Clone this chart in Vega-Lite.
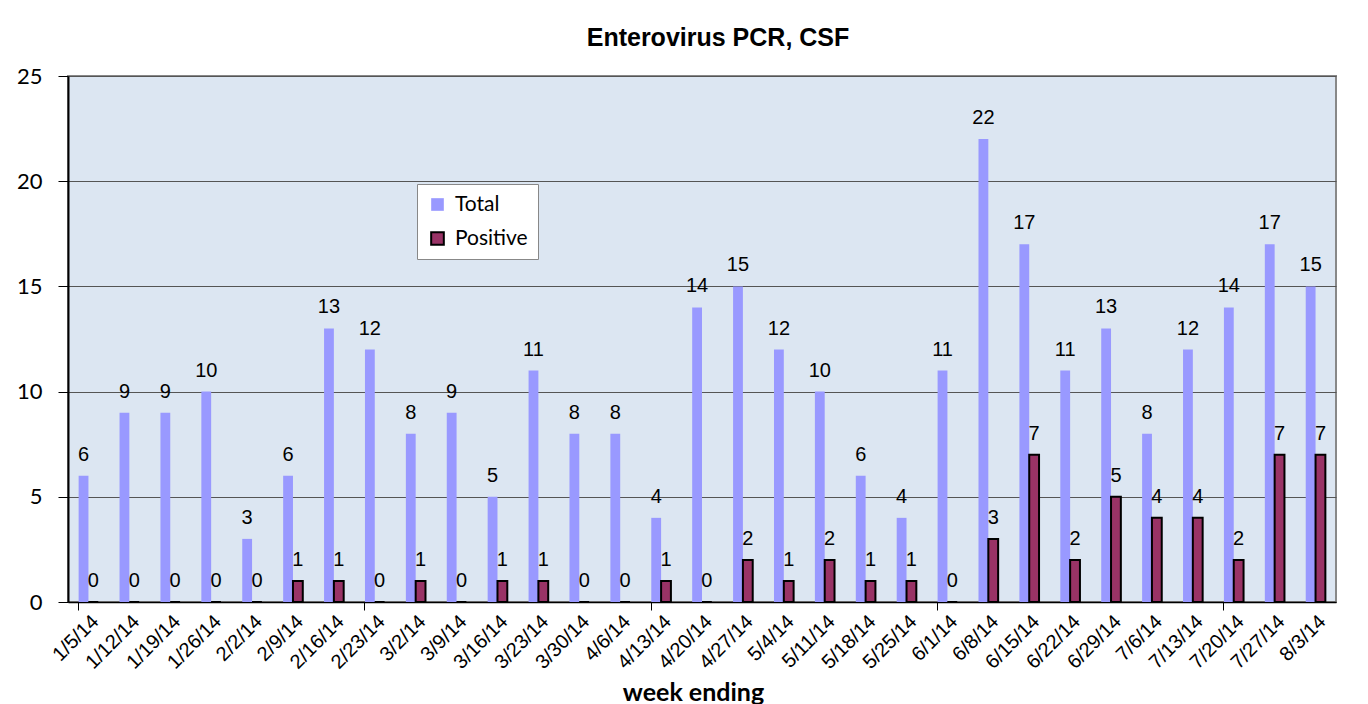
{
  "$schema": "https://vega.github.io/schema/vega-lite/v6.json",
  "width": 1268,
  "height": 526,
  "autosize": {"type": "none"},
  "padding": {"left": 68, "top": 76, "right": 32, "bottom": 102},
  "background": "white",
  "title": {"text": "Enterovirus PCR, CSF", "font": "Liberation Sans", "fontSize": 25, "fontWeight": "bold", "color": "black", "offset": 14, "dx": 16},
  "data": {"values": [
    {"week": "1/5/14", "series": "Total", "value": 6}, {"week": "1/5/14", "series": "Positive", "value": 0},
    {"week": "1/12/14", "series": "Total", "value": 9}, {"week": "1/12/14", "series": "Positive", "value": 0},
    {"week": "1/19/14", "series": "Total", "value": 9}, {"week": "1/19/14", "series": "Positive", "value": 0},
    {"week": "1/26/14", "series": "Total", "value": 10}, {"week": "1/26/14", "series": "Positive", "value": 0},
    {"week": "2/2/14", "series": "Total", "value": 3}, {"week": "2/2/14", "series": "Positive", "value": 0},
    {"week": "2/9/14", "series": "Total", "value": 6}, {"week": "2/9/14", "series": "Positive", "value": 1},
    {"week": "2/16/14", "series": "Total", "value": 13}, {"week": "2/16/14", "series": "Positive", "value": 1},
    {"week": "2/23/14", "series": "Total", "value": 12}, {"week": "2/23/14", "series": "Positive", "value": 0},
    {"week": "3/2/14", "series": "Total", "value": 8}, {"week": "3/2/14", "series": "Positive", "value": 1},
    {"week": "3/9/14", "series": "Total", "value": 9}, {"week": "3/9/14", "series": "Positive", "value": 0},
    {"week": "3/16/14", "series": "Total", "value": 5}, {"week": "3/16/14", "series": "Positive", "value": 1},
    {"week": "3/23/14", "series": "Total", "value": 11}, {"week": "3/23/14", "series": "Positive", "value": 1},
    {"week": "3/30/14", "series": "Total", "value": 8}, {"week": "3/30/14", "series": "Positive", "value": 0},
    {"week": "4/6/14", "series": "Total", "value": 8}, {"week": "4/6/14", "series": "Positive", "value": 0},
    {"week": "4/13/14", "series": "Total", "value": 4}, {"week": "4/13/14", "series": "Positive", "value": 1},
    {"week": "4/20/14", "series": "Total", "value": 14}, {"week": "4/20/14", "series": "Positive", "value": 0},
    {"week": "4/27/14", "series": "Total", "value": 15}, {"week": "4/27/14", "series": "Positive", "value": 2},
    {"week": "5/4/14", "series": "Total", "value": 12}, {"week": "5/4/14", "series": "Positive", "value": 1},
    {"week": "5/11/14", "series": "Total", "value": 10}, {"week": "5/11/14", "series": "Positive", "value": 2},
    {"week": "5/18/14", "series": "Total", "value": 6}, {"week": "5/18/14", "series": "Positive", "value": 1},
    {"week": "5/25/14", "series": "Total", "value": 4}, {"week": "5/25/14", "series": "Positive", "value": 1},
    {"week": "6/1/14", "series": "Total", "value": 11}, {"week": "6/1/14", "series": "Positive", "value": 0},
    {"week": "6/8/14", "series": "Total", "value": 22}, {"week": "6/8/14", "series": "Positive", "value": 3},
    {"week": "6/15/14", "series": "Total", "value": 17}, {"week": "6/15/14", "series": "Positive", "value": 7},
    {"week": "6/22/14", "series": "Total", "value": 11}, {"week": "6/22/14", "series": "Positive", "value": 2},
    {"week": "6/29/14", "series": "Total", "value": 13}, {"week": "6/29/14", "series": "Positive", "value": 5},
    {"week": "7/6/14", "series": "Total", "value": 8}, {"week": "7/6/14", "series": "Positive", "value": 4},
    {"week": "7/13/14", "series": "Total", "value": 12}, {"week": "7/13/14", "series": "Positive", "value": 4},
    {"week": "7/20/14", "series": "Total", "value": 14}, {"week": "7/20/14", "series": "Positive", "value": 2},
    {"week": "7/27/14", "series": "Total", "value": 17}, {"week": "7/27/14", "series": "Positive", "value": 7},
    {"week": "8/3/14", "series": "Total", "value": 15}, {"week": "8/3/14", "series": "Positive", "value": 7}
  ]},
  "encoding": {
    "xOffset": {"field": "series", "type": "nominal", "sort": ["Total", "Positive"], "scale": {"paddingInner": 0, "paddingOuter": 0}},
    "y": {"field": "value", "type": "quantitative", "scale": {"domain": [0, 25], "nice": false},
      "axis": {"title": null, "values": [0, 5, 10, 15, 20, 25], "grid": true, "gridColor": "#555555", "gridWidth": 1,
        "domainColor": "black", "domainWidth": 2, "tickColor": "black", "tickSize": 10, "tickWidth": 1,
        "labelFont": "Lato", "labelFontSize": 22, "labelColor": "black", "labelPadding": 16}}
  },
  "layer": [
    {
      "mark": {"type": "bar", "strokeWidth": 2},
      "encoding": {
        "x": {"field": "week", "type": "nominal", "sort": null, "scale": {"paddingInner": 0.52, "paddingOuter": 0.26},
          "axis": {"ticks": false, "labelAngle": -45, "labelFont": "Liberation Sans", "labelFontSize": 20, "labelColor": "black", "labelPadding": 9, "labelLimit": 0,
            "domainColor": "black", "domainWidth": 1.5, "title": "week ending", "titleFont": "Lato", "titleFontSize": 25, "titleFontWeight": "bold", "titleColor": "black",
            "titleY": 98, "titleX": 625, "titleBaseline": "alphabetic", "titleAlign": "center"}},
        "color": {"field": "series", "type": "nominal", "scale": {"domain": ["Total", "Positive"], "range": ["#9999FF", "#993366"]},
          "legend": {"title": null, "orient": "none", "legendX": 349, "legendY": 108, "fillColor": "white", "strokeColor": "#888888", "padding": 10, "rowPadding": 12,
            "symbolType": "square", "symbolSize": 160, "symbolStrokeWidth": 2, "labelFont": "Lato", "labelFontSize": 21, "labelColor": "black", "labelOffset": 7}},
        "stroke": {"field": "series", "type": "nominal", "scale": {"domain": ["Total", "Positive"], "range": ["transparent", "black"]},
          "legend": {"title": null, "orient": "none", "legendX": 349, "legendY": 108, "fillColor": "white", "strokeColor": "#888888", "padding": 10, "rowPadding": 12,
            "symbolType": "square", "symbolSize": 160, "symbolStrokeWidth": 2, "labelFont": "Lato", "labelFontSize": 21, "labelColor": "black", "labelOffset": 7}}
      }
    },
    {
      "mark": {"type": "text", "font": "Liberation Sans", "fontSize": 20, "color": "black", "baseline": "alphabetic", "dy": -15},
      "encoding": {
        "x": {"field": "week", "type": "nominal", "sort": null, "scale": {"paddingInner": 0.52, "paddingOuter": 0.26},
          "axis": {"orient": "bottom", "labels": false, "title": null, "domain": false, "grid": false, "ticks": true, "tickColor": "black", "tickSize": 8, "bandPosition": 0,
            "values": ["1/5/14", "2/23/14", "4/13/14", "6/1/14", "7/20/14"]}},
        "text": {"field": "value", "type": "quantitative"}
      }
    }
  ],
  "resolve": {"axis": {"x": "independent"}},
  "config": {"view": {"fill": "#DCE6F2", "stroke": "#888888", "strokeWidth": 2}}
}
